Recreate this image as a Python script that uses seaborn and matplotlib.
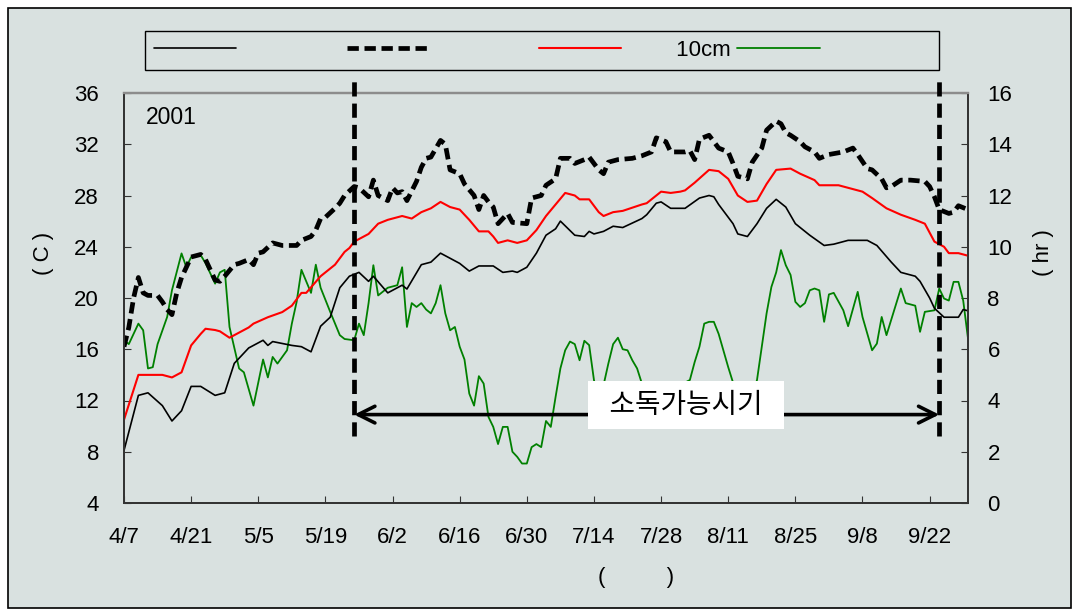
import matplotlib
matplotlib.use("Agg")
import matplotlib.pyplot as plt
from matplotlib.patches import Rectangle
import seaborn as sns

# --- data (day 0 = 4/7, 2001) ---
tick_days = [0, 14, 28, 42, 56, 70, 84, 98, 112, 126, 140, 154, 168]
tick_labels = ["4/7", "4/21", "5/5", "5/19", "6/2", "6/16", "6/30", "7/14",
               "7/28", "8/11", "8/25", "9/8", "9/22"]

black_days = [0, 3, 5, 8, 10, 12, 14, 16, 19, 21, 23, 26, 29, 30, 31, 35, 37, 39, 41, 43,
              45, 47, 49, 51, 52, 55, 58, 59, 62, 64, 66, 70, 72, 74, 77, 79, 81, 82, 84, 86,
              88, 90, 91, 94, 96, 97, 98, 100, 102, 104, 108, 109, 111, 112, 114, 117, 120, 122, 123, 124,
              127, 128, 130, 132, 134, 136, 138, 140, 143, 146, 148, 151, 155, 157, 160, 162, 165, 166, 168, 169,
              171, 174, 175, 176]
black_vals = [8.1, 12.4, 12.6, 11.6, 10.4, 11.2, 13.1, 13.1, 12.4, 12.6, 14.9, 16.1, 16.7, 16.3, 16.6, 16.3, 16.2, 15.8, 17.8, 18.5,
              20.8, 21.7, 22.0, 21.3, 21.7, 20.4, 21.0, 20.7, 22.6, 22.8, 23.5, 22.7, 22.1, 22.5, 22.5, 22.0, 22.1, 22.0, 22.4, 23.5,
              24.9, 25.4, 26.0, 24.9, 24.8, 25.2, 25.0, 25.2, 25.6, 25.5, 26.2, 26.5, 27.4, 27.5, 27.0, 27.0, 27.8, 28.0, 27.9, 27.3,
              25.8, 25.0, 24.8, 25.8, 27.0, 27.7, 27.1, 25.8, 24.9, 24.1, 24.2, 24.5, 24.5, 24.1, 22.8, 22.0, 21.7, 21.3, 20.0, 19.2,
              18.5, 18.5, 19.1, 19.0]

dash_days = [0, 1, 2, 3, 4, 5, 7, 8, 9, 10, 11, 12, 13, 14, 16, 17, 19, 20, 21, 23,
             24, 26, 27, 28, 29, 31, 33, 36, 37, 39, 40, 41, 42, 44, 45, 46, 48, 49, 51, 52,
             53, 55, 56, 57, 58, 59, 61, 62, 63, 64, 66, 67, 68, 70, 71, 73, 74, 75, 76, 77,
             78, 80, 81, 84, 85, 87, 88, 90, 91, 93, 94, 96, 97, 99, 100, 101, 103, 106, 108, 110,
             111, 113, 114, 117, 118, 119, 120, 122, 124, 126, 127, 128, 130, 131, 133, 134, 136, 137, 138, 139,
             141, 142, 144, 145, 147, 150, 152, 153, 155, 156, 158, 159, 160, 162, 164, 167, 168, 169, 170, 172,
             173, 174, 176]
dash_vals = [16.2, 17.7, 20.0, 21.6, 20.4, 20.2, 20.2, 19.7, 19.1, 18.7, 20.4, 21.6, 22.4, 23.2, 23.4, 23.0, 21.4, 21.3, 21.7, 22.6,
             22.7, 23.0, 22.6, 23.5, 23.6, 24.3, 24.1, 24.1, 24.5, 24.8, 25.3, 26.2, 26.3, 27.0, 27.4, 28.0, 28.7, 28.6, 27.9, 29.2,
             28.0, 27.6, 28.6, 28.2, 28.3, 27.6, 29.1, 30.2, 30.9, 31.0, 32.3, 32.0, 30.0, 29.7, 28.9, 28.0, 26.9, 28.0, 27.5, 27.1,
             25.8, 26.6, 25.9, 25.8, 27.8, 28.0, 28.8, 29.3, 30.9, 30.9, 30.5, 30.8, 31.0, 30.0, 29.7, 30.6, 30.8, 30.9, 31.1, 31.4,
             32.5, 32.2, 31.4, 31.4, 31.5, 30.8, 32.4, 32.7, 31.7, 31.4, 30.5, 29.5, 29.3, 30.6, 31.7, 33.1, 33.8, 33.6, 32.9, 32.7,
             32.2, 31.8, 31.4, 30.9, 31.2, 31.4, 31.7, 31.2, 30.1, 30.0, 29.3, 28.6, 28.7, 29.2, 29.2, 29.1, 28.7, 27.9, 26.9, 26.6,
             26.7, 27.2, 26.9]

red_days = [0, 3, 8, 10, 12, 14, 16, 17, 19, 20, 22, 24, 26, 27, 30, 33, 35, 37, 38, 41,
            44, 46, 47, 48, 51, 53, 55, 58, 60, 62, 64, 66, 68, 70, 72, 74, 76, 77, 78, 80,
            82, 84, 86, 88, 90, 92, 94, 95, 97, 99, 100, 102, 104, 108, 109, 112, 114, 116, 117, 119,
            122, 124, 126, 128, 130, 132, 134, 136, 139, 141, 144, 145, 149, 151, 154, 156, 159, 162, 165, 167,
            169, 171, 172, 174, 176]
red_vals = [10.5, 14.0, 14.0, 13.8, 14.2, 16.3, 17.2, 17.6, 17.5, 17.4, 16.9, 17.3, 17.7, 18.0, 18.5, 18.9, 19.4, 20.4, 20.4, 21.7,
            22.6, 23.6, 23.9, 24.4, 25.0, 25.8, 26.1, 26.4, 26.2, 26.7, 27.0, 27.5, 27.1, 26.9, 26.1, 25.2, 25.2, 24.8, 24.3, 24.5,
            24.3, 24.5, 25.3, 26.4, 27.3, 28.2, 28.0, 27.7, 27.7, 26.7, 26.4, 26.7, 26.8, 27.3, 27.4, 28.3, 28.2, 28.3, 28.4, 29.0,
            30.0, 29.9, 29.3, 28.0, 27.5, 27.6, 28.9, 30.0, 30.1, 29.7, 29.2, 28.8, 28.8, 28.6, 28.3, 27.8, 27.0, 26.5, 26.1, 25.8,
            24.4, 24.0, 23.5, 23.5, 23.3]

green_days = [0, 1, 3, 4, 5, 6, 7, 9, 10, 12, 13, 14, 16, 17, 19, 20, 21, 22, 24, 25,
              27, 29, 30, 31, 32, 34, 35, 36, 37, 39, 40, 41, 43, 45, 46, 48, 49, 50, 51, 52,
              53, 55, 57, 58, 59, 60, 61, 62, 63, 64, 65, 66, 67, 68, 69, 70, 71, 72, 73, 74,
              75, 76, 77, 78, 79, 80, 81, 82, 83, 84, 85, 86, 87, 88, 89, 90, 91, 92, 93, 94,
              95, 96, 97, 98, 99, 100, 101, 102, 103, 104, 105, 106, 107, 108, 110, 112, 114, 116, 117, 118,
              119, 120, 121, 122, 123, 124, 126, 127, 129, 130, 132, 134, 135, 136, 137, 138, 139, 140, 141, 142,
              143, 144, 145, 146, 147, 148, 150, 151, 153, 154, 156, 157, 158, 159, 162, 163, 165, 166, 167, 169,
              170, 171, 172, 173, 174, 175, 176]
green_vals = [6.35, 6.2, 7.0, 6.74, 5.25, 5.3, 6.2, 7.26, 8.3, 9.74, 9.2, 9.6, 9.67, 9.36, 8.56, 9.0, 9.1, 6.87, 5.25, 5.1,
              3.8, 5.6, 4.9, 5.7, 5.44, 5.96, 7.0, 7.85, 9.1, 8.2, 9.3, 8.4, 7.46, 6.55, 6.4, 6.35, 7.0, 6.55, 7.8, 9.28,
              8.1, 8.4, 8.5, 9.2, 6.87, 7.8, 7.65, 7.8, 7.55, 7.4, 7.8, 8.5, 7.4, 6.74, 6.87, 6.1, 5.6, 4.27, 3.8, 4.95,
              4.66, 3.36, 2.97, 2.3, 2.97, 2.97, 2.0, 1.8, 1.54, 1.54, 2.18, 2.3, 2.18, 3.2, 2.97, 4.14, 5.25, 5.96, 6.3, 6.2,
              5.57, 6.33, 6.16, 4.8, 4.0, 4.6, 5.44, 6.2, 6.45, 6.0, 5.96, 5.57, 5.25, 4.66, 4.0, 3.6, 3.8, 4.2, 4.7, 4.8,
              5.5, 6.1, 7.0, 7.07, 7.07, 6.6, 5.3, 4.7, 3.8, 3.6, 4.8, 7.4, 8.43, 9.0, 9.87, 9.28, 8.9, 7.85, 7.65, 7.8,
              8.3, 8.37, 8.3, 7.07, 8.14, 8.2, 7.52, 6.9, 8.24, 7.26, 5.96, 6.22, 7.26, 6.55, 8.37, 7.8, 7.7, 6.68, 7.46, 7.52,
              8.37, 7.98, 7.9, 8.63, 8.63, 7.9, 6.42]

period_start = 48   # 5/25
period_end = 170    # 9/24
arrow_level = 10.9

bg = "#d9e1e0"

sns.set_style("ticks")
plt.rcParams["font.family"] = ["Liberation Sans", "Noto Sans CJK KR", "DejaVu Sans"]
plt.rcParams["text.color"] = "black"
plt.rcParams["xtick.color"] = "black"
plt.rcParams["ytick.color"] = "black"

fig = plt.figure(figsize=(10.74, 6.10), dpi=100, facecolor="white")
fig.patches.append(Rectangle((8 / 1074, 2 / 610), 1063 / 1074, 600 / 610,
                             transform=fig.transFigure, facecolor=bg,
                             edgecolor="black", linewidth=1.2, zorder=-10))

ax = fig.add_axes([124 / 1074, 107 / 610, 844 / 1074, 410 / 610])
ax2 = ax.twinx()
ax.set_zorder(ax2.get_zorder() + 1)
ax.patch.set_visible(False)
ax2.patch.set_facecolor(bg)
ax2.patch.set_visible(True)

# green: sunshine hours on right axis
sns.lineplot(x=green_days, y=green_vals, ax=ax2, color="#008000", linewidth=1.3,
             estimator=None)
sns.lineplot(x=black_days, y=black_vals, ax=ax, color="black", linewidth=1.2,
             estimator=None)
sns.lineplot(x=dash_days, y=dash_vals, ax=ax, color="black", linewidth=3.4,
             estimator=None, linestyle=(0, (2.4, 1.2)))
sns.lineplot(x=red_days, y=red_vals, ax=ax, color="#ff0000", linewidth=1.5,
             estimator=None)

ax.set_xlim(0, 176)
ax.set_ylim(4, 36)
ax2.set_ylim(0, 16)
ax.set_yticks(range(4, 37, 4))
ax2.set_yticks(range(0, 17, 2))
ax.set_xticks(tick_days)
ax.set_xticklabels(tick_labels)
ax.set_xlabel("")
ax.set_ylabel("")
ax2.set_ylabel("")

ax.set_yticks(range(8, 36, 4), minor=True)
ax.yaxis.grid(True, which="minor", linestyle=(0, (4, 9)), color="#555555", linewidth=1.0)
ax.yaxis.grid(False, which="major")
ax.tick_params(axis="y", which="minor", length=0)
ax.xaxis.grid(False)
ax2.grid(False)

ax.tick_params(axis="y", direction="in", length=5, labelsize=16, pad=18,
               colors="#333333", labelcolor="black")
ax.tick_params(axis="x", direction="in", length=5, labelsize=16, pad=17,
               colors="#333333", labelcolor="black")
ax2.tick_params(axis="y", direction="in", length=5, labelsize=16, pad=14,
                colors="#333333", labelcolor="black")

for a in (ax, ax2):
    for side in ("left", "right", "bottom"):
        a.spines[side].set_color("#333333")
        a.spines[side].set_linewidth(1.3)
        a.spines[side].set_visible(True)
    a.spines["top"].set_color("#8c8c8c")
    a.spines["top"].set_linewidth(1.6)
    a.spines["top"].set_visible(True)

# marked period
for d in (period_start, period_end):
    ax.plot([d, d], [9.2, 37.0], color="black", linewidth=3.4,
            linestyle=(0, (3, 1.5)), clip_on=False, zorder=5)
ax.annotate("", xy=(period_end, arrow_level), xytext=(period_start, arrow_level),
            arrowprops=dict(arrowstyle="<->", color="black", lw=2.6,
                            mutation_scale=30, shrinkA=0, shrinkB=0), zorder=6)
ax.text(117.2, 11.62, "  소독가능시기  ", fontsize=20, ha="center", va="center",
        family=["Noto Sans CJK KR"], zorder=7,
        bbox=dict(boxstyle="square,pad=0.32", facecolor="white", edgecolor="none"))

ax.text(4.6, 34.1, "2001", fontsize=16.5, ha="left", va="center")

# axis titles (Korean parts not rendered in the source image)
fig.text(43 / 1074, 1 - 253 / 610, "( C )", rotation=90, fontsize=16,
         ha="center", va="center")
fig.text(1043 / 1074, 1 - 253 / 610, "( hr )", rotation=90, fontsize=16,
         ha="center", va="center")
fig.text(636 / 1074, 1 - 577 / 610, "(          )", fontsize=16,
         ha="center", va="center")

# legend
handles = [ax.lines[0], ax.lines[1], ax.lines[2], ax2.lines[0]]
labels = [" " * 18, " " * 18, " " * 9 + "10cm ", " " * 18]
leg = fig.legend(handles, labels, ncol=4, loc="center",
                 bbox_to_anchor=(542 / 1074, 1 - 50.5 / 610),
                 frameon=True, fancybox=False, edgecolor="black",
                 facecolor=bg, framealpha=1, fontsize=16,
                 handlelength=3.7, handletextpad=0.0, columnspacing=0.0,
                 borderpad=0.4, borderaxespad=0)
leg.get_frame().set_linewidth(1.0)

fig.savefig("out.png", dpi=100, facecolor="white")
